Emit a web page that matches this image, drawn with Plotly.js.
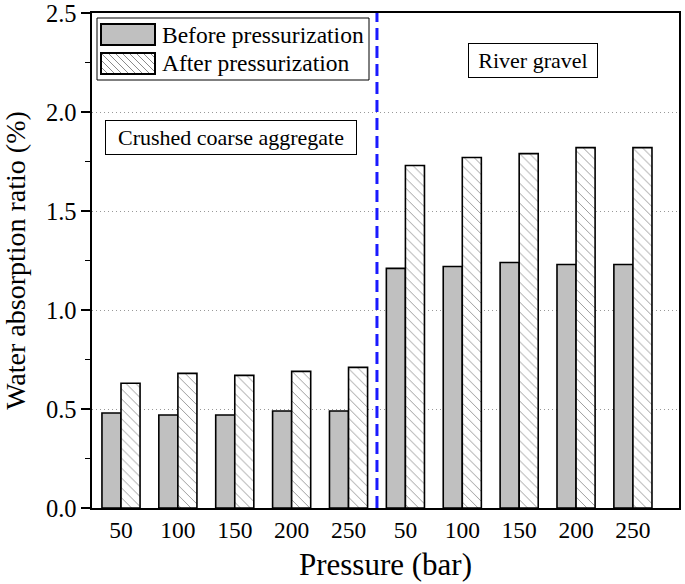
<!DOCTYPE html>
<html>
<head>
<meta charset="utf-8">
<script src="https://cdn.plot.ly/plotly-3.0.1.min.js"></script>
<style>html,body{margin:0;padding:0;background:#fff;}#chart{width:685px;height:584px;}</style>
</head>
<body>
<div id="chart"></div>
<script>
// Data
const pressureLabels = ['50','100','150','200','250','50','100','150','200','250'];
const beforeValues = [0.48, 0.47, 0.47, 0.49, 0.49, 1.21, 1.22, 1.24, 1.23, 1.23];
const afterValues  = [0.63, 0.68, 0.67, 0.69, 0.71, 1.73, 1.77, 1.79, 1.82, 1.82];
const groupLabels = ['Crushed coarse aggregate', 'River gravel'];
const seriesNames = ['Before pressurization', 'After pressurization'];
const yTicks = [0.0, 0.5, 1.0, 1.5, 2.0, 2.5];

const positions = pressureLabels.map((_, i) => i);
const FONT = 'Liberation Serif, Times New Roman, serif';
const GRAY = '#c0c0c0';
const HATCH = '#8a8a8a';

// plot-area geometry (pixels) used to place the hand-made legend
const W = 685, H = 584, M = {l: 92, r: 6, t: 13, b: 76};
const PW = W - M.l - M.r, PH = H - M.t - M.b;
const px = x => (x - M.l) / PW;           // pixel x -> paper x
const py = y => (H - M.b - y) / PH;       // pixel y -> paper y

const traces = [
  {
    type: 'bar', name: seriesNames[0], x: positions, y: beforeValues,
    marker: {color: GRAY, line: {color: '#000', width: 1.6}},
    hoverinfo: 'y'
  },
  {
    type: 'bar', name: seriesNames[1], x: positions, y: afterValues,
    marker: {color: '#fff', line: {color: '#000', width: 1.6},
      pattern: {shape: '\\', fgcolor: HATCH, bgcolor: '#ffffff', size: 7, solidity: 0.12}},
    hoverinfo: 'y'
  }
];

// legend (drawn as layout shapes + annotations for the large swatches)
const legBox = {x0: 97, x1: 369, y0: 18, y1: 80};
const sw = [{x0: 101, x1: 155, y0: 24, y1: 45}, {x0: 101, x1: 155, y0: 53, y1: 74}];
function hatchPath(r, step) {
  // "\" diagonal lines clipped to rectangle r (pixel coords), returned in paper coords
  const w = r.x1 - r.x0, h = r.y1 - r.y0;
  let d = '';
  for (let c = -h; c < w; c += step) {
    let xa = r.x0 + c, ya = r.y0;
    if (xa < r.x0) { ya = r.y0 + (r.x0 - xa); xa = r.x0; }
    let xb = r.x0 + c + h, yb = r.y1;
    if (xb > r.x1) { yb = r.y1 - (xb - r.x1); xb = r.x1; }
    if (ya >= r.y1 || xa >= r.x1) continue;
    d += `M${px(xa)},${py(ya)}L${px(xb)},${py(yb)}`;
  }
  return d;
}

const shapes = [
  {type: 'line', xref: 'x', yref: 'paper', x0: 4.5, x1: 4.5, y0: 0, y1: 1,
   line: {color: '#1a1aff', width: 3, dash: '12px,6px'}},
  {type: 'rect', xref: 'paper', yref: 'paper', x0: px(legBox.x0), x1: px(legBox.x1), y0: py(legBox.y1), y1: py(legBox.y0),
   line: {color: '#000', width: 1}, fillcolor: '#fff', layer: 'above'},
  {type: 'rect', xref: 'paper', yref: 'paper', x0: px(sw[0].x0), x1: px(sw[0].x1), y0: py(sw[0].y1), y1: py(sw[0].y0),
   line: {color: '#000', width: 2}, fillcolor: GRAY, layer: 'above'},
  {type: 'path', xref: 'paper', yref: 'paper', path: hatchPath(sw[1], 7),
   line: {color: HATCH, width: 1}, layer: 'above'},
  {type: 'rect', xref: 'paper', yref: 'paper', x0: px(sw[1].x0), x1: px(sw[1].x1), y0: py(sw[1].y1), y1: py(sw[1].y0),
   line: {color: '#000', width: 2}, fillcolor: 'rgba(0,0,0,0)', layer: 'above'}
];

const annotations = [
  {text: seriesNames[0], xref: 'paper', yref: 'paper', x: px(160), y: py(35),
   xanchor: 'left', yanchor: 'middle', showarrow: false,
   font: {family: FONT, size: 23.5, color: '#000'}},
  {text: seriesNames[1], xref: 'paper', yref: 'paper', x: px(160), y: py(63),
   xanchor: 'left', yanchor: 'middle', showarrow: false,
   font: {family: FONT, size: 23.5, color: '#000'}},
  {text: groupLabels[0], xref: 'paper', yref: 'paper', x: 0.2368, y: 0.7475,
   xanchor: 'center', yanchor: 'middle', showarrow: false,
   font: {family: FONT, size: 22, color: '#000'},
   bordercolor: '#000', borderwidth: 1, borderpad: 4, bgcolor: '#fff', width: 242},
  {text: groupLabels[1], xref: 'paper', yref: 'paper', x: 0.7513, y: 0.905,
   xanchor: 'center', yanchor: 'middle', showarrow: false,
   font: {family: FONT, size: 22, color: '#000'},
   bordercolor: '#000', borderwidth: 1, borderpad: 4, bgcolor: '#fff', width: 120}
];

const layout = {
  width: W, height: H,
  margin: M,
  paper_bgcolor: '#fff', plot_bgcolor: '#fff',
  font: {family: FONT, color: '#000', size: 22},
  barmode: 'group', bargap: 0.33, bargroupgap: 0,
  showlegend: false,
  xaxis: {
    range: [-0.51, 9.81],
    tickmode: 'array', tickvals: positions, ticktext: pressureLabels,
    ticks: '', showgrid: false, zeroline: false,
    showline: true, linecolor: '#000', linewidth: 1.6, mirror: true,
    tickfont: {family: FONT, size: 23.5, color: '#000'},
    title: {text: 'Pressure (bar)', font: {family: FONT, size: 31, color: '#000'}, standoff: 11}
  },
  yaxis: {
    range: [0, 2.5],
    tickmode: 'array', tickvals: yTicks, ticktext: yTicks.map(v => v.toFixed(1)),
    ticks: 'outside', ticklen: 9, tickwidth: 1.6, tickcolor: '#000',
    ticklabeloverflow: 'allow',
    minor: {tickmode: 'linear', dtick: 0.25, tick0: 0, ticks: 'outside', ticklen: 5, tickwidth: 1.6, tickcolor: '#000', showgrid: false},
    showgrid: true, gridcolor: '#999', griddash: '1px,3px', gridwidth: 1,
    zeroline: false,
    showline: true, linecolor: '#000', linewidth: 1.6, mirror: true,
    tickfont: {family: FONT, size: 24.5, color: '#000'},
    title: {text: 'Water absorption ratio (%)', font: {family: FONT, size: 28, color: '#000'}, standoff: 17}
  },
  shapes: shapes,
  annotations: annotations
};

Plotly.newPlot('chart', traces, layout, {displayModeBar: false, staticPlot: true});
</script>
</body>
</html>
